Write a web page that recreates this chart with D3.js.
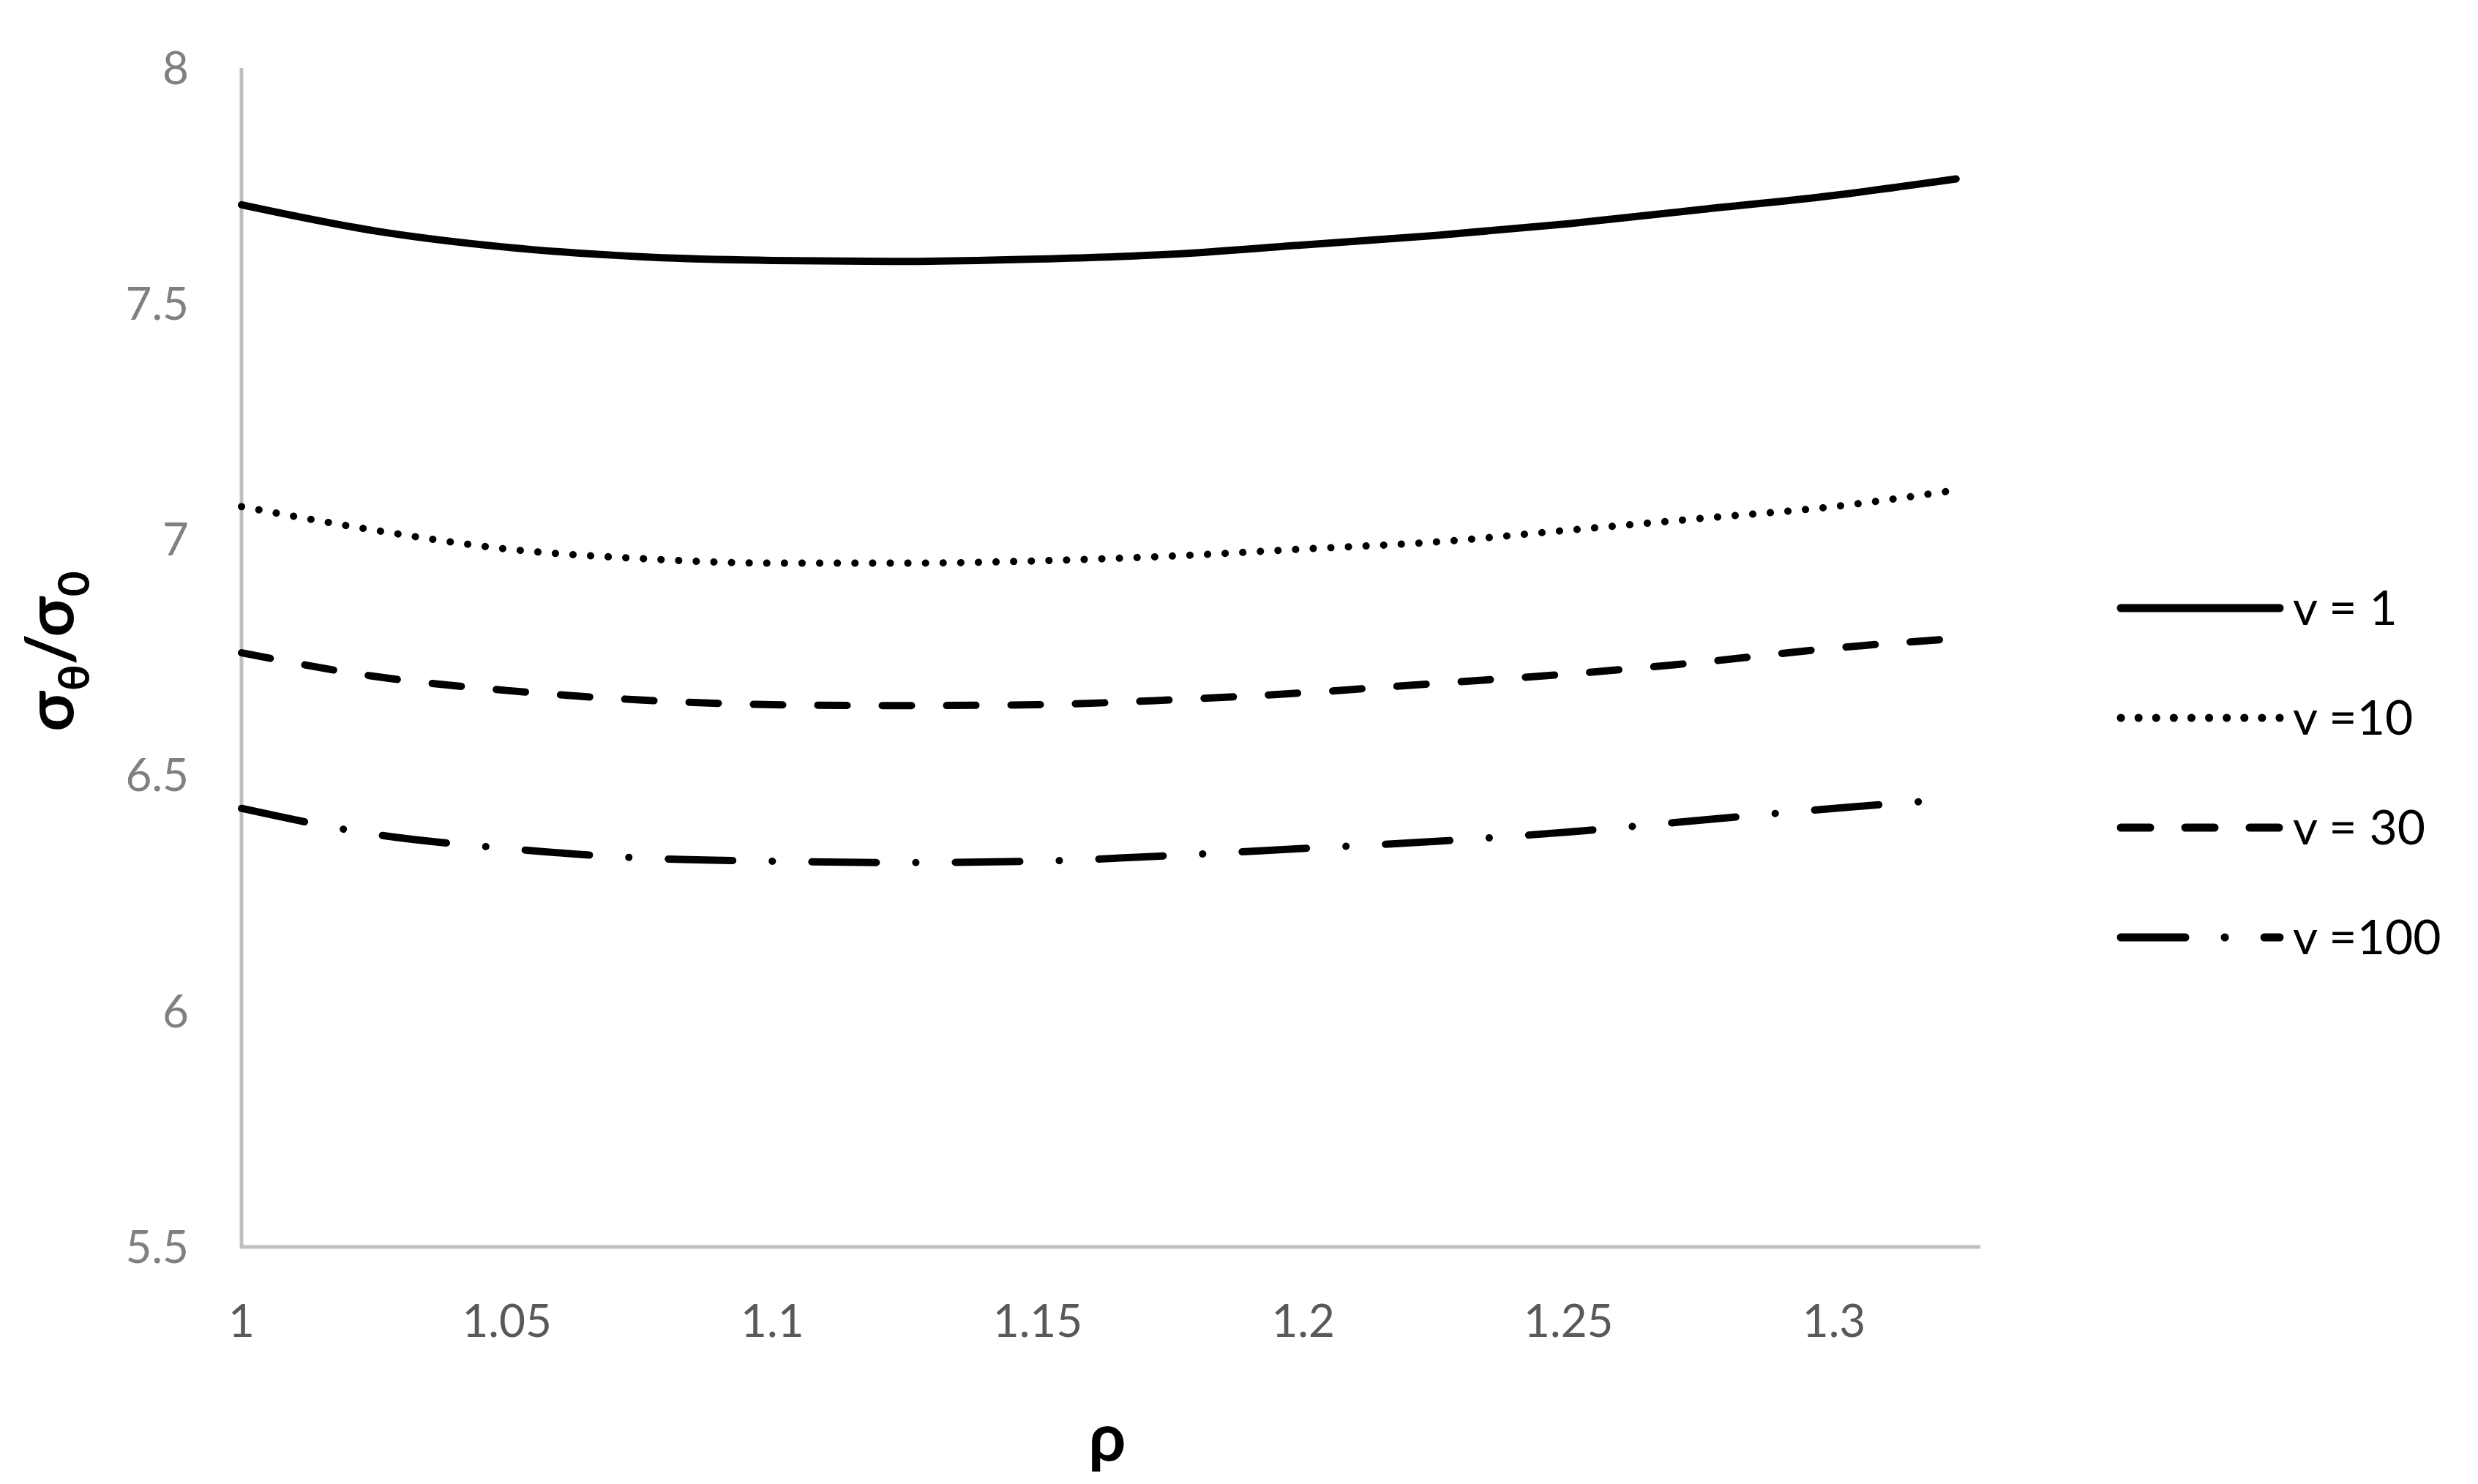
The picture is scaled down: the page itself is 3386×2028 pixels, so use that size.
<!DOCTYPE html>
<html>
<head>
<meta charset="utf-8">
<script src="https://cdn.jsdelivr.net/npm/d3@7"></script>
<style>
  body { margin: 0; background: #fff; }
  text { font-family: Lato, "Open Sans", sans-serif; }
</style>
</head>
<body>
<div id="chart"></div>
<script>
const rho = [1, 1.025, 1.05, 1.075, 1.1, 1.125, 1.15, 1.175, 1.2, 1.225, 1.25, 1.275, 1.3, 1.323];
const v1 = [7.71, 7.655, 7.62, 7.60, 7.592, 7.59, 7.595, 7.605, 7.625, 7.645, 7.67, 7.70, 7.73, 7.765];
const v10 = [7.07, 7.02, 6.98, 6.96, 6.95, 6.95, 6.955, 6.965, 6.98, 6.995, 7.02, 7.045, 7.07, 7.105];
const v30 = [6.76, 6.71, 6.68, 6.66, 6.65, 6.648, 6.65, 6.66, 6.675, 6.695, 6.715, 6.74, 6.77, 6.79];
const v100 = [6.43, 6.375, 6.345, 6.325, 6.318, 6.315, 6.318, 6.33, 6.345, 6.36, 6.38, 6.405, 6.43, 6.45];
const seriesNames = ["v = 1", "v =10", "v = 30", "v =100"];
const xTicks = [1, 1.05, 1.1, 1.15, 1.2, 1.25, 1.3];
const yTicks = [5.5, 6, 6.5, 7, 7.5, 8];

const W = 3386, H = 2028;
const svg = d3.select("#chart").append("svg").attr("width", W).attr("height", H);

const x = d3.scaleLinear().domain([1, 1.3]).range([330, 2506]);
const y = d3.scaleLinear().domain([5.5, 8]).range([1704, 93]);
const xEnd = 2706;

// axes lines
svg.append("line").attr("x1", 330).attr("x2", 330).attr("y1", 93).attr("y2", 1704)
  .attr("stroke", "#bfbfbf").attr("stroke-width", 5);
svg.append("line").attr("x1", 328).attr("x2", xEnd).attr("y1", 1704).attr("y2", 1704)
  .attr("stroke", "#bfbfbf").attr("stroke-width", 5);

svg.selectAll(".ytick").data(yTicks).enter().append("text")
  .attr("x", 258).attr("y", d => y(d)).attr("dy", "0.35em")
  .attr("text-anchor", "end").attr("font-size", 62).attr("fill", "#808080")
  .text(d => d);

svg.selectAll(".xtick").data(xTicks).enter().append("text")
  .attr("x", d => x(d)).attr("y", 1805).attr("dy", "0.35em")
  .attr("text-anchor", "middle").attr("font-size", 62).attr("fill", "#595959")
  .text(d => d);

// axis titles
svg.append("text").attr("x", 1513).attr("y", 1964).attr("dy", "0.35em")
  .attr("text-anchor", "middle").attr("font-size", 90).attr("font-weight", "bold")
  .text("ρ");

const yt = svg.append("text").attr("transform", "translate(100,890) rotate(-90)")
  .attr("text-anchor", "middle").attr("font-size", 90).attr("font-weight", "bold");
yt.append("tspan").text("σ");
yt.append("tspan").attr("font-size", 60).attr("dy", 22).text("θ");
yt.append("tspan").attr("dy", -22).text("/σ");
yt.append("tspan").attr("font-size", 60).attr("dy", 22).text("0");

const styles = [
  { data: v1, dash: null },
  { data: v10, dash: "0.1,24" },
  { data: v30, dash: "40,48" },
  { data: v100, dash: "88,54,0.1,54" }
];

const line = d3.line().x(d => x(d[0])).y(d => y(d[1])).curve(d3.curveMonotoneX);

styles.forEach((s, i) => {
  svg.append("path")
    .datum(rho.map((r, k) => [r, s.data[k]]))
    .attr("d", line)
    .attr("fill", "none").attr("stroke", "#000").attr("stroke-width", 10)
    .attr("stroke-linecap", "round")
    .attr("stroke-dasharray", s.dash);

  const ly = 831 + i * 150;
  svg.append("line").attr("x1", 2898).attr("x2", 3115).attr("y1", ly).attr("y2", ly)
    .attr("stroke", "#000").attr("stroke-width", 11).attr("stroke-linecap", "round")
    .attr("stroke-dasharray", s.dash);
  svg.append("text").attr("x", 3133).attr("y", ly).attr("dy", "0.35em")
    .attr("font-size", 66).attr("fill", "#000").text(seriesNames[i]);
});
</script>
</body>
</html>
